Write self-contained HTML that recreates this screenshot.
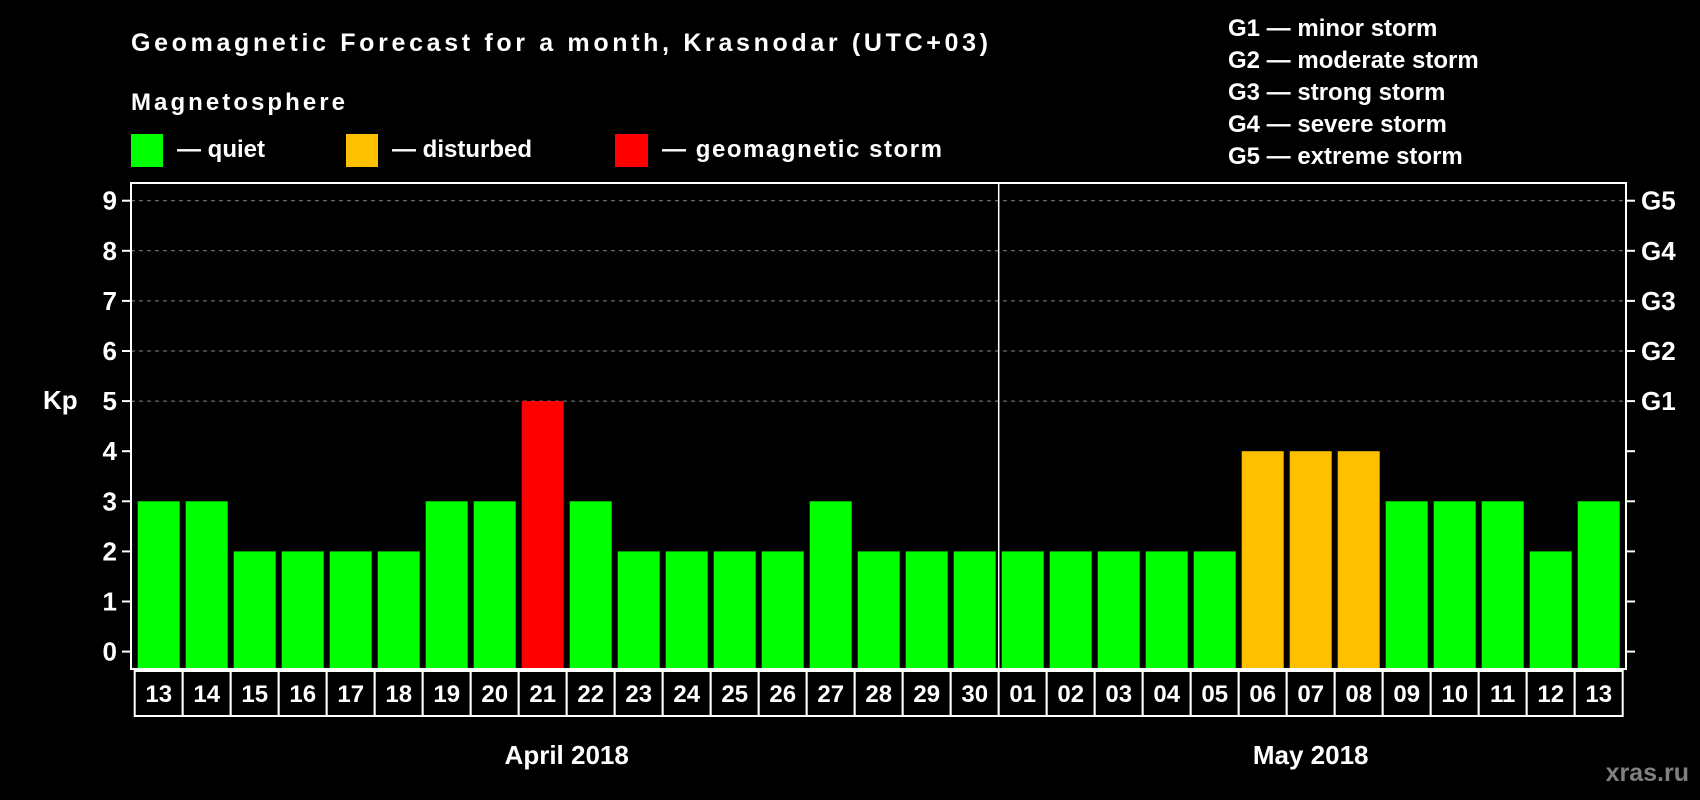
<!DOCTYPE html>
<html><head><meta charset="utf-8"><style>
html,body{margin:0;padding:0;background:#000;}
svg{display:block;font-family:"Liberation Sans",Arial,sans-serif;font-weight:bold;}
</style></head><body>
<svg id="chart" width="1700" height="800" viewBox="0 0 1700 800">
<text x="131" y="51" font-size="25" fill="#fff" textLength="857">Geomagnetic Forecast for a month, Krasnodar (UTC+03)</text>
<text x="131" y="110" font-size="24" fill="#fff" textLength="214">Magnetosphere</text>
<g><rect x="131" y="134" width="32" height="33" fill="#00ff00"/><text x="177" y="157" font-size="24" fill="#fff">— quiet</text></g>
<g><rect x="346" y="134" width="32" height="33" fill="#ffc000"/><text x="392" y="157" font-size="24" fill="#fff">— disturbed</text></g>
<g><rect x="615" y="134" width="33" height="33" fill="#ff0000"/><text x="662" y="157" font-size="24" fill="#fff" textLength="280">— geomagnetic storm</text></g>
<g font-size="24" fill="#fff">
<text x="1228" y="36">G1 — minor storm</text>
<text x="1228" y="68">G2 — moderate storm</text>
<text x="1228" y="100">G3 — strong storm</text>
<text x="1228" y="132">G4 — severe storm</text>
<text x="1228" y="164">G5 — extreme storm</text>
</g>
<text x="43" y="409" font-size="26" fill="#fff">Kp</text>
<text x="1689" y="781" font-size="25" fill="#808080" text-anchor="end">xras.ru</text>
<g id="plot"></g>
</svg>
<script>
const days = ["13","14","15","16","17","18","19","20","21","22","23","24","25","26","27","28","29","30","01","02","03","04","05","06","07","08","09","10","11","12","13"];
const kpValues = [3,3,2,2,2,2,3,3,5,3,2,2,2,2,3,2,2,2,2,2,2,2,2,4,4,4,3,3,3,2,3];
const yTicks = [0,1,2,3,4,5,6,7,8,9];
const gLabels = ["G1","G2","G3","G4","G5"];
const gLevels = [5,6,7,8,9];
const months = ["April 2018","May 2018"];
const monthStart = [0,18];
const monthLen = [18,13];

const NS = "http://www.w3.org/2000/svg";
const g = document.getElementById('plot');
const L = 131, R = 1626, T = 183, B = 669;
const cellX0 = 134.7, pitch = 48, barW = 42;
const y = v => 651.6 - v * 50.1;
const cx = i => cellX0 + pitch * i + pitch / 2;
function mk(tag, attrs) { const e = document.createElementNS(NS, tag); for (const k in attrs) e.setAttribute(k, attrs[k]); g.appendChild(e); return e; }

gLevels.forEach((lv) => {
  const e = mk('line', {x1: L, x2: R, y1: y(lv), y2: y(lv), stroke: '#888', 'stroke-width': 1, 'stroke-dasharray': '4,4'});
  
  
});
kpValues.forEach((v, i) => {
  const col = v >= 5 ? '#ff0000' : (v >= 4 ? '#ffc000' : '#00ff00');
  const e = mk('rect', {x: cx(i) - barW / 2, y: y(v), width: barW, height: B - y(v), fill: col});
  
  
});
const frame = mk('rect', {x: L, y: T, width: R - L, height: B - T, fill: 'none', stroke: '#fff', 'stroke-width': 2});


const sepX = cellX0 + pitch * monthStart[1];
const sep = mk('line', {x1: sepX, x2: sepX, y1: T, y2: B, stroke: '#fff', 'stroke-width': 1.5});


yTicks.forEach((t) => {
  const a = mk('line', {x1: L - 9, x2: L, y1: y(t), y2: y(t), stroke: '#fff', 'stroke-width': 2});
  
  
  const b = mk('line', {x1: R, x2: R + 9, y1: y(t), y2: y(t), stroke: '#fff', 'stroke-width': 2});
  
  
  const tx = mk('text', {x: 117, y: y(t) + 9, 'font-size': 26, fill: '#fff', 'text-anchor': 'end'});
  tx.textContent = t;
  
  
});
gLabels.forEach((lab, i) => {
  const tx = mk('text', {x: 1641, y: y(gLevels[i]) + 9, 'font-size': 26, fill: '#fff'});
  tx.textContent = lab;
  
  
});
days.forEach((d, i) => {
  const r = mk('rect', {x: cellX0 + pitch * i, y: 671, width: pitch, height: 45, fill: '#000', stroke: '#fff', 'stroke-width': 2});
  
  
  const tx = mk('text', {x: cx(i), y: 702, 'font-size': 24, fill: '#fff', 'text-anchor': 'middle'});
  tx.textContent = d;
  
  
});
months.forEach((m, i) => {
  const mid = cellX0 + pitch * (monthStart[i] + monthLen[i] / 2);
  const tx = mk('text', {x: mid, y: 764, 'font-size': 26, fill: '#fff', 'text-anchor': 'middle'});
  tx.textContent = m;
  
  
});
</script>
</body></html>
